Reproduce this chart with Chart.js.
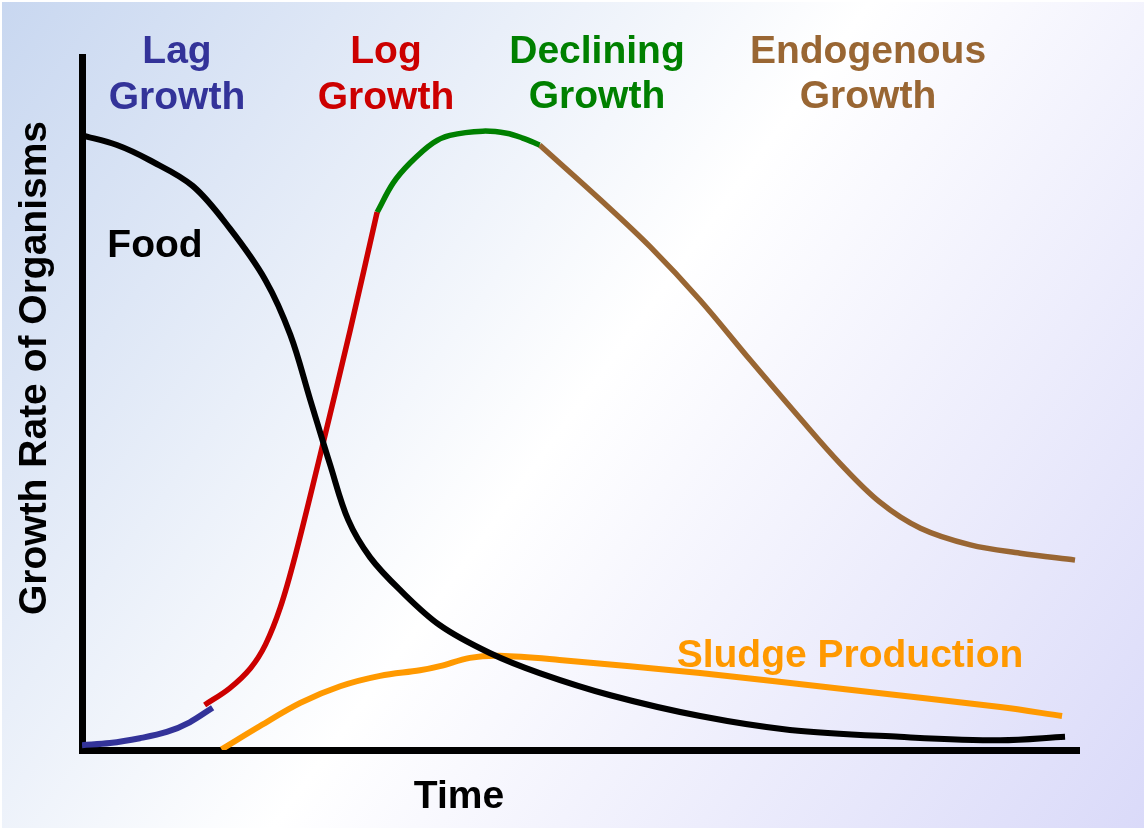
<!DOCTYPE html>
<html>
<head>
<meta charset="utf-8">
<title>Growth Rate of Organisms</title>
<script src="https://cdn.jsdelivr.net/npm/chart.js@4.4.1/dist/chart.umd.min.js"></script>
<style>
  html, body { margin: 0; padding: 0; background: #ffffff; }
  #wrap { width: 1144px; height: 828px; }
</style>
</head>
<body>
<div id="wrap"><canvas id="c" width="1144" height="828"></canvas></div>
<script>
// Time axis runs 0..100, growth rate axis 0..100 (relative units).

// Food remaining in the system
const foodTime  = [0, 3.5, 6.8, 11.1, 14.8, 18.4, 20.9, 22.9, 24.9, 26.7, 28.9, 31.9, 35.9, 40.9, 45.9, 53.0, 62.0, 71.0, 82.0, 92.1, 98.6];
const foodLevel = [88.7, 87.3, 85.1, 81.4, 75.3, 67.8, 59.9, 50.5, 41.1, 33.2, 27.8, 23.1, 18.0, 14.0, 11.1, 7.9, 4.9, 2.9, 1.9, 1.4, 1.9];

// Growth of organisms, split into its four phases
const lagTime   = [0, 2.8, 5.8, 8.5, 10.8, 13.1];
const lagRate   = [0.7, 1.0, 1.7, 2.6, 4.0, 6.1];

const logTime   = [12.3, 14.8, 16.9, 18.4, 19.9, 21.4, 23.9, 26.9, 29.6];
const logRate   = [6.5, 8.9, 11.8, 15.2, 20.6, 28.1, 42.6, 60.6, 77.6];

const declTime  = [29.6, 31.2, 32.9, 35.2, 36.9, 40.2, 42.6, 44.2, 45.9];
const declRate  = [77.6, 81.8, 84.7, 87.6, 88.7, 89.3, 89.0, 88.3, 87.3];

const endoTime  = [45.9, 52.0, 57.0, 62.0, 67.0, 72.0, 76.0, 80.0, 84.1, 89.1, 94.1, 99.6];
const endoRate  = [87.3, 79.4, 72.6, 64.9, 56.3, 47.9, 41.4, 35.8, 32.0, 29.6, 28.4, 27.4];

// Sludge produced
const sludgeTime  = [14.0, 17.9, 21.9, 25.9, 29.9, 33.9, 35.9, 38.9, 41.9, 47.9, 62.0, 77.0, 92.1, 98.3];
const sludgeLevel = [0.1, 3.5, 6.8, 9.2, 10.7, 11.5, 12.1, 13.3, 13.6, 13.0, 11.1, 8.7, 6.2, 4.9];

const toPoints = (xs, ys) => xs.map((x, i) => ({ x: x, y: ys[i] }));

const FONT = 'bold 39px "Liberation Sans", Arial, sans-serif';

// Phase headings and curve names
const labels = [
  { lines: ['Lag', 'Growth'],        color: '#333399', x: 177, y: 63, gap: 46 },
  { lines: ['Log', 'Growth'],        color: '#cc0000', x: 386, y: 63, gap: 46 },
  { lines: ['Declining', 'Growth'],  color: '#008000', x: 597, y: 63, gap: 45 },
  { lines: ['Endogenous', 'Growth'], color: '#996633', x: 868, y: 63, gap: 45 },
  { lines: ['Food'],                 color: '#000000', x: 155, y: 257, gap: 0 },
  { lines: ['Sludge Production'],    color: '#ff9900', x: 850, y: 667, gap: 0 },
  { lines: ['Time'],                 color: '#000000', x: 459, y: 808, gap: 0 }
];

const backdrop = {
  id: 'backdrop',
  beforeDraw(chart) {
    const ctx = chart.ctx;
    const w = chart.width, h = chart.height;
    ctx.save();
    ctx.fillStyle = '#ffffff';
    ctx.fillRect(0, 0, w, h);
    const g = ctx.createLinearGradient(0, 0, w, h);
    g.addColorStop(0, '#c8d7f0');
    g.addColorStop(0.5, '#ffffff');
    g.addColorStop(1, '#dadaf9');
    ctx.fillStyle = g;
    ctx.fillRect(2, 2, w - 2, h - 2);
    ctx.restore();
  }
};

const captions = {
  id: 'captions',
  afterDraw(chart) {
    const ctx = chart.ctx;
    ctx.save();
    ctx.font = FONT;
    ctx.textAlign = 'center';
    ctx.textBaseline = 'alphabetic';
    labels.forEach(l => {
      ctx.fillStyle = l.color;
      l.lines.forEach((t, i) => ctx.fillText(t, l.x, l.y + i * l.gap));
    });
    // vertical axis title
    ctx.translate(46, 368);
    ctx.rotate(-Math.PI / 2);
    ctx.fillStyle = '#000000';
    ctx.fillText('Growth Rate of Organisms', 0, 0);
    ctx.restore();
  }
};

const lineStyle = (color, width) => ({
  borderColor: color,
  borderWidth: width,
  pointRadius: 0,
  fill: false,
  tension: 0.35,
  borderCapStyle: 'butt',
  borderJoinStyle: 'round'
});

new Chart(document.getElementById('c'), {
  type: 'line',
  data: {
    datasets: [
      Object.assign({ label: 'Food', data: toPoints(foodTime, foodLevel) }, lineStyle('#000000', 6)),
      Object.assign({ label: 'Lag Growth', data: toPoints(lagTime, lagRate) }, lineStyle('#333399', 6)),
      Object.assign({ label: 'Log Growth', data: toPoints(logTime, logRate) }, lineStyle('#cc0000', 5.5)),
      Object.assign({ label: 'Declining Growth', data: toPoints(declTime, declRate) }, lineStyle('#008000', 5.5)),
      Object.assign({ label: 'Endogenous Growth', data: toPoints(endoTime, endoRate) }, lineStyle('#996633', 5.5)),
      Object.assign({ label: 'Sludge Production', data: toPoints(sludgeTime, sludgeLevel) }, lineStyle('#ff9900', 6))
    ]
  },
  options: {
    responsive: false,
    animation: false,
    devicePixelRatio: 1,
    layout: { padding: { left: 82, top: 57, right: 65, bottom: 78 } },
    plugins: { legend: { display: false }, tooltip: { enabled: false } },
    scales: {
      x: {
        type: 'linear', min: 0, max: 100,
        ticks: { display: false },
        grid: { display: false, drawTicks: false },
        border: { display: true, color: '#000000', width: 7 }
      },
      y: {
        type: 'linear', min: 0, max: 100,
        ticks: { display: false },
        grid: { display: false, drawTicks: false },
        border: { display: true, color: '#000000', width: 7 }
      }
    }
  },
  plugins: [backdrop, captions]
});
</script>
</body>
</html>
